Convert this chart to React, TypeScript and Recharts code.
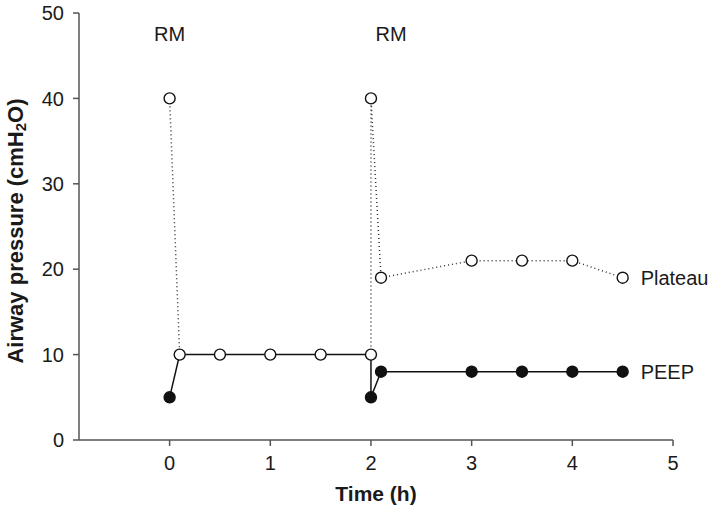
import React from "react";
import { ComposedChart, Line, Scatter, XAxis, YAxis, ReferenceDot } from "recharts";

document.body.style.margin = "0";

// solid trace: PEEP points plus the 10 cmH2O plateau run between recruitments
const solidTrace = [
    { x: 0, y: 5 },
    { x: 0.1, y: 10 },
    { x: 0.5, y: 10 },
    { x: 1, y: 10 },
    { x: 1.5, y: 10 },
    { x: 2, y: 10 },
    { x: 2, y: 5 },
    { x: 2.1, y: 8 },
    { x: 3, y: 8 },
    { x: 3.5, y: 8 },
    { x: 4, y: 8 },
    { x: 4.5, y: 8 },
];

// dotted plateau traces
const dottedFirst = [
    { x: 0, y: 40 },
    { x: 0.1, y: 10 },
];
const dottedSecond = [
    { x: 2, y: 10 },
    { x: 2, y: 40 },
    { x: 2.1, y: 19 },
    { x: 3, y: 21 },
    { x: 3.5, y: 21 },
    { x: 4, y: 21 },
    { x: 4.5, y: 19 },
];

// markers
const plateauPoints = [
    { x: 0, y: 40 },
    { x: 0.1, y: 10 },
    { x: 0.5, y: 10 },
    { x: 1, y: 10 },
    { x: 1.5, y: 10 },
    { x: 2, y: 10 },
    { x: 2, y: 40 },
    { x: 2.1, y: 19 },
    { x: 3, y: 21 },
    { x: 3.5, y: 21 },
    { x: 4, y: 21 },
    { x: 4.5, y: 19 },
];
const peepPoints = [
    { x: 0, y: 5 },
    { x: 2, y: 5 },
    { x: 2.1, y: 8 },
    { x: 3, y: 8 },
    { x: 3.5, y: 8 },
    { x: 4, y: 8 },
    { x: 4.5, y: 8 },
];

const xTicks = [0, 1, 2, 3, 4, 5];
const yTicks = [0, 10, 20, 30, 40, 50];

const rmLabels = [
    { x: 0, y: 47.5, text: "RM" },
    { x: 2.2, y: 47.5, text: "RM" },
];
const seriesLabels = [
    { x: 4.5, y: 19, text: "Plateau" },
    { x: 4.5, y: 8, text: "PEEP" },
];

const FONT = "'Liberation Sans', Arial, sans-serif";
const INK = "#1a1a1a";

const OpenDot = (props: any) => (
    <circle cx={props.cx} cy={props.cy} r={5.5} fill="#fff" stroke="#111" strokeWidth={1.4} />
);
const FilledDot = (props: any) => (
    <circle cx={props.cx} cy={props.cy} r={5.5} fill="#111" stroke="#111" strokeWidth={1.4} />
);

const centerText = (text: string) => (props: any) => {
    const { viewBox } = props;
    return (
        <text x={viewBox.x} y={viewBox.y} textAnchor="middle" dominantBaseline="central" fontSize={20} fill={INK} fontFamily={FONT}>
            {text}
        </text>
    );
};

const sideText = (text: string) => (props: any) => {
    const { viewBox } = props;
    return (
        <text x={viewBox.x + 18} y={viewBox.y} textAnchor="start" dominantBaseline="central" fontSize={20} fill={INK} fontFamily={FONT}>
            {text}
        </text>
    );
};

const XTitle = (props: any) => {
    const { viewBox } = props;
    const cx = viewBox.x + viewBox.width / 2;
    return (
        <text x={cx} y={501} textAnchor="middle" fontSize={21} fontWeight="bold" fill={INK} fontFamily={FONT}>
            Time (h)
        </text>
    );
};

const YTitle = () => (
    <text
        x={15}
        y={231}
        transform="rotate(-90 15 231)"
        textAnchor="middle"
        dominantBaseline="central"
        fontSize={22}
        fontWeight="bold"
        fill={INK}
        fontFamily={FONT}
    >
        Airway pressure (cmH
        <tspan fontSize={15} dy={5}>2</tspan>
        <tspan dy={-5}>O)</tspan>
    </text>
);

export default function App() {
    return (
        <ComposedChart width={709} height={511} margin={{ top: 13, right: 36, left: 29, bottom: 41 }}>
            <XAxis
                type="number"
                dataKey="x"
                domain={[-0.9, 5]}
                ticks={xTicks}
                allowDataOverflow
                height={30}
                tickSize={6}
                tickMargin={10}
                stroke="#555"
                strokeWidth={1.5}
                tick={{ fill: INK, fontSize: 20, fontFamily: FONT }}
                label={<XTitle />}
            />
            <YAxis
                type="number"
                dataKey="y"
                domain={[0, 50]}
                ticks={yTicks}
                width={50}
                tickSize={6}
                tickMargin={9}
                stroke="#555"
                strokeWidth={1.5}
                tick={{ fill: INK, fontSize: 20, fontFamily: FONT }}
                label={<YTitle />}
            />
            <Line data={dottedFirst} dataKey="y" type="linear" stroke="#333" strokeWidth={1.5} strokeDasharray="1 3" dot={false} isAnimationActive={false} />
            <Line data={dottedSecond} dataKey="y" type="linear" stroke="#333" strokeWidth={1.5} strokeDasharray="1 3" dot={false} isAnimationActive={false} />
            <Line data={solidTrace} dataKey="y" type="linear" stroke="#111" strokeWidth={1.5} dot={false} isAnimationActive={false} />
            <Scatter data={peepPoints} dataKey="y" shape={<FilledDot />} isAnimationActive={false} />
            <Scatter data={plateauPoints} dataKey="y" shape={<OpenDot />} isAnimationActive={false} />
            {rmLabels.map((l, i) => (
                <ReferenceDot key={"rm" + i} x={l.x} y={l.y} r={0} ifOverflow="visible" label={centerText(l.text)} />
            ))}
            {seriesLabels.map((l, i) => (
                <ReferenceDot key={"s" + i} x={l.x} y={l.y} r={0} ifOverflow="visible" label={sideText(l.text)} />
            ))}
        </ComposedChart>
    );
}
